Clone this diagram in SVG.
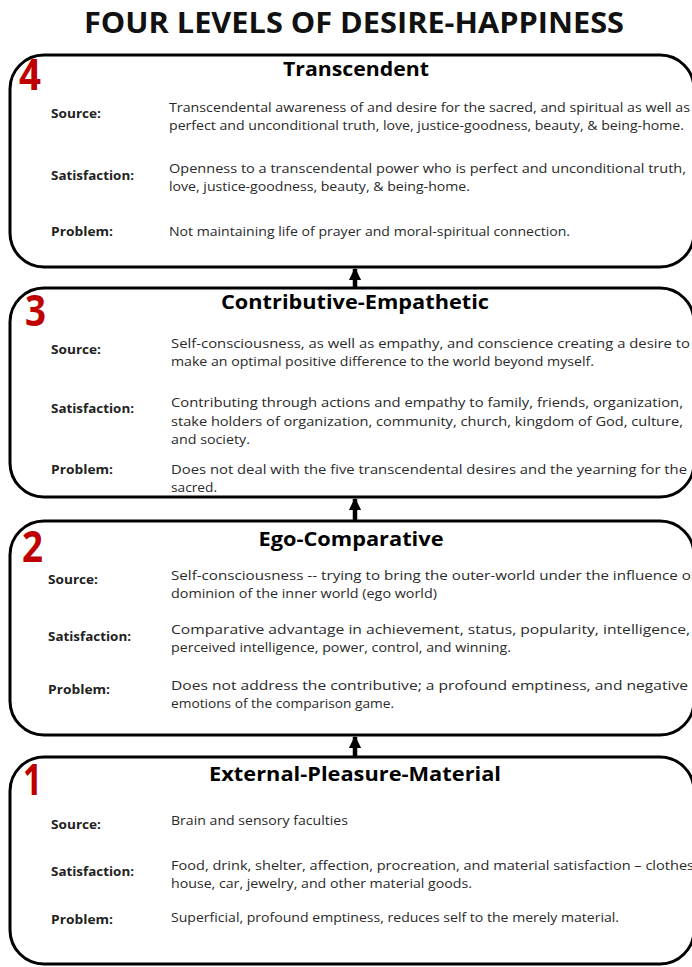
<svg xmlns="http://www.w3.org/2000/svg" width="692" height="967" viewBox="0 0 692 967">
<defs>
<style>
.box{fill:#fff;stroke:#000;stroke-width:3}
.num{font-family:"Open Sans","Liberation Sans",sans-serif;font-weight:bold;font-size:43px;fill:#c00000}
.ttl{font-family:"Open Sans","Liberation Sans",sans-serif;font-weight:bold;font-size:20px;fill:#000;text-anchor:middle}
.lbl{font-family:"Open Sans","Liberation Sans",sans-serif;font-weight:bold;font-size:12.5px;fill:#222}
.txt{font-family:"Open Sans","Liberation Sans",sans-serif;font-size:12.5px;fill:#2a2a2a}
.main{font-family:"Open Sans","Liberation Sans",sans-serif;font-weight:bold;font-size:29px;fill:#111;text-anchor:middle}
.conn{stroke:#000;stroke-width:4.5;fill:none}
</style>
<marker id="ah" viewBox="0 0 10 10" refX="9" refY="5" markerWidth="2.7" markerHeight="2.7" orient="auto" markerUnits="strokeWidth">
<path d="M0,0 L10,5 L0,10 z" fill="#000"/>
</marker>
</defs>
<rect width="692" height="967" fill="#fff"/>
<text class="main" x="354" y="33" textLength="540" lengthAdjust="spacingAndGlyphs">FOUR LEVELS OF DESIRE-HAPPINESS</text>

<g id="level4">
<rect class="box" x="10" y="55" width="684" height="212" rx="34" ry="34"/>
<text class="num" x="19" y="90" textLength="22" lengthAdjust="spacingAndGlyphs">4</text>
<text class="ttl" x="356" y="76" textLength="146" lengthAdjust="spacingAndGlyphs">Transcendent</text>
<text class="lbl" x="51" y="118" textLength="50" lengthAdjust="spacingAndGlyphs">Source:</text>
<text class="txt" x="169" y="112" textLength="521" lengthAdjust="spacingAndGlyphs">Transcendental awareness of and desire for the sacred, and spiritual as well as</text>
<text class="txt" x="169" y="130" textLength="515" lengthAdjust="spacingAndGlyphs">perfect and unconditional truth, love, justice-goodness, beauty, &amp; being-home.</text>
<text class="lbl" x="51" y="180" textLength="83" lengthAdjust="spacingAndGlyphs">Satisfaction:</text>
<text class="txt" x="169" y="173" textLength="517" lengthAdjust="spacingAndGlyphs">Openness to a transcendental power who is perfect and unconditional truth,</text>
<text class="txt" x="169" y="191" textLength="301" lengthAdjust="spacingAndGlyphs">love, justice-goodness, beauty, &amp; being-home.</text>
<text class="lbl" x="51" y="236" textLength="62" lengthAdjust="spacingAndGlyphs">Problem:</text>
<text class="txt" x="169" y="236" textLength="401" lengthAdjust="spacingAndGlyphs">Not maintaining life of prayer and moral-spiritual connection.</text>
</g>

<g id="level3">
<rect class="box" x="10" y="288" width="684" height="209" rx="34" ry="34"/>
<text class="num" x="25" y="326" textLength="21" lengthAdjust="spacingAndGlyphs">3</text>
<text class="ttl" x="355" y="309" textLength="268" lengthAdjust="spacingAndGlyphs">Contributive-Empathetic</text>
<text class="lbl" x="51" y="354" textLength="50" lengthAdjust="spacingAndGlyphs">Source:</text>
<text class="txt" x="171" y="348" textLength="519" lengthAdjust="spacingAndGlyphs">Self-consciousness, as well as empathy, and conscience creating a desire to</text>
<text class="txt" x="171" y="366" textLength="423" lengthAdjust="spacingAndGlyphs">make an optimal positive difference to the world beyond myself.</text>
<text class="lbl" x="51" y="413" textLength="83" lengthAdjust="spacingAndGlyphs">Satisfaction:</text>
<text class="txt" x="171" y="407" textLength="512" lengthAdjust="spacingAndGlyphs">Contributing through actions  and empathy to family, friends, organization,</text>
<text class="txt" x="171" y="426" textLength="512" lengthAdjust="spacingAndGlyphs">stake holders of organization, community, church, kingdom of God, culture,</text>
<text class="txt" x="171" y="444" textLength="79" lengthAdjust="spacingAndGlyphs">and society.</text>
<text class="lbl" x="51" y="474" textLength="62" lengthAdjust="spacingAndGlyphs">Problem:</text>
<text class="txt" x="171" y="474" textLength="516" lengthAdjust="spacingAndGlyphs">Does not deal with the five transcendental desires and the yearning for the</text>
<text class="txt" x="171" y="492" textLength="46" lengthAdjust="spacingAndGlyphs">sacred.</text>
</g>

<g id="level2">
<rect class="box" x="10" y="521" width="684" height="214" rx="34" ry="34"/>
<text class="num" x="22" y="562" textLength="21" lengthAdjust="spacingAndGlyphs">2</text>
<text class="ttl" x="351" y="546" textLength="185" lengthAdjust="spacingAndGlyphs">Ego-Comparative</text>
<text class="lbl" x="48" y="584" textLength="50" lengthAdjust="spacingAndGlyphs">Source:</text>
<text class="txt" x="171" y="580" textLength="526" lengthAdjust="spacingAndGlyphs">Self-consciousness -- trying to bring the outer-world under the influence or</text>
<text class="txt" x="171" y="598" textLength="266" lengthAdjust="spacingAndGlyphs">dominion of the inner world (ego world)</text>
<text class="lbl" x="48" y="641" textLength="83" lengthAdjust="spacingAndGlyphs">Satisfaction:</text>
<text class="txt" x="171" y="634" textLength="519" lengthAdjust="spacingAndGlyphs">Comparative advantage in achievement, status, popularity, intelligence,</text>
<text class="txt" x="171" y="652" textLength="340" lengthAdjust="spacingAndGlyphs">perceived intelligence, power, control, and winning.</text>
<text class="lbl" x="48" y="694" textLength="62" lengthAdjust="spacingAndGlyphs">Problem:</text>
<text class="txt" x="171" y="690" textLength="517" lengthAdjust="spacingAndGlyphs">Does not address the contributive; a profound emptiness, and negative</text>
<text class="txt" x="171" y="708" textLength="223" lengthAdjust="spacingAndGlyphs">emotions of the comparison game.</text>
</g>

<g id="level1">
<rect class="box" x="10" y="757" width="684" height="207" rx="34" ry="34"/>
<text class="num" x="23" y="795" textLength="19" lengthAdjust="spacingAndGlyphs">1</text>
<text class="ttl" x="355" y="781" textLength="292" lengthAdjust="spacingAndGlyphs">External-Pleasure-Material</text>
<text class="lbl" x="51" y="829" textLength="50" lengthAdjust="spacingAndGlyphs">Source:</text>
<text class="txt" x="171" y="825" textLength="177" lengthAdjust="spacingAndGlyphs">Brain and sensory faculties</text>
<text class="lbl" x="51" y="876" textLength="83" lengthAdjust="spacingAndGlyphs">Satisfaction:</text>
<text class="txt" x="171" y="870" textLength="523" lengthAdjust="spacingAndGlyphs">Food, drink, shelter, affection, procreation, and material satisfaction – clothes</text>
<text class="txt" x="171" y="888" textLength="301" lengthAdjust="spacingAndGlyphs">house, car, jewelry, and other material goods.</text>
<text class="lbl" x="51" y="924" textLength="62" lengthAdjust="spacingAndGlyphs">Problem:</text>
<text class="txt" x="171" y="922" textLength="448" lengthAdjust="spacingAndGlyphs">Superficial, profound emptiness, reduces self to the merely material.</text>
</g>

<g id="connectors">
<line class="conn" x1="355" y1="287" x2="355" y2="269" marker-end="url(#ah)"/>
<line class="conn" x1="355" y1="520" x2="355" y2="499" marker-end="url(#ah)"/>
<line class="conn" x1="355" y1="756" x2="355" y2="737" marker-end="url(#ah)"/>
</g>
</svg>
